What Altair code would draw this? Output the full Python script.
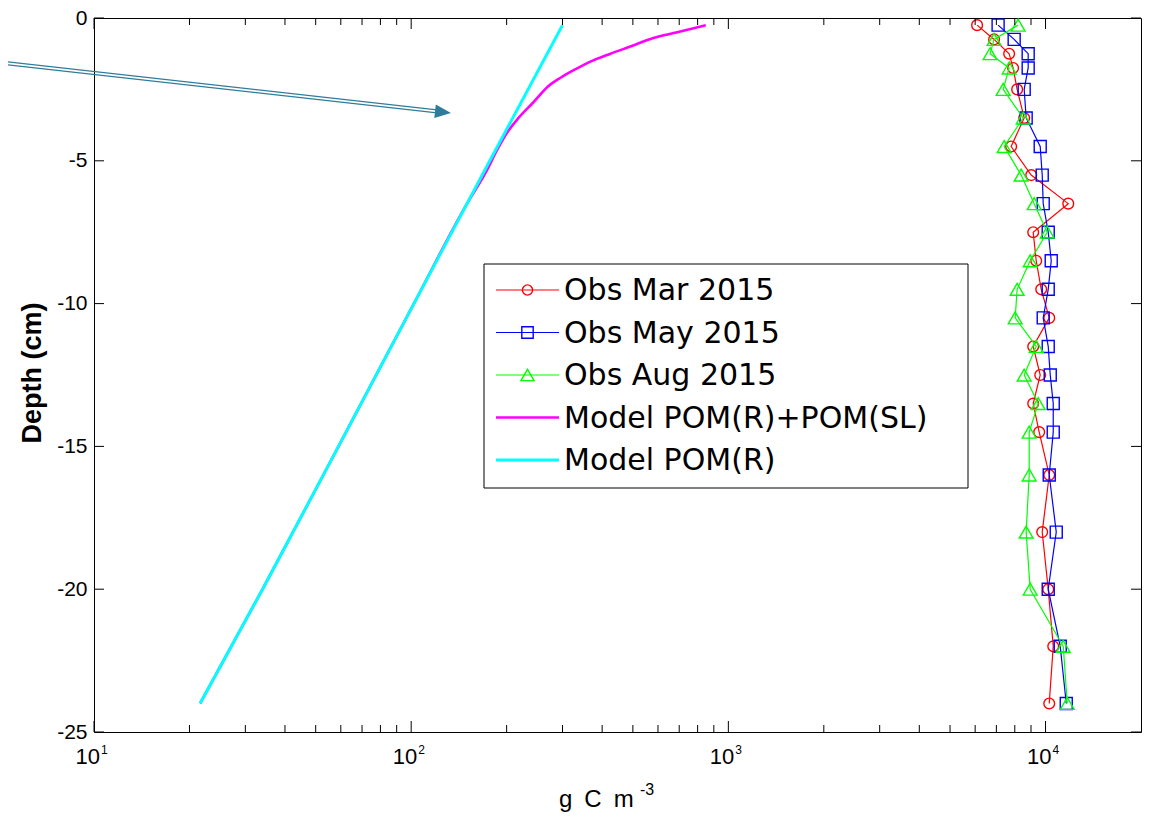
import altair as alt
import pandas as pd

# ---------------- data ----------------
obs_depth = [-0.25, -0.75, -1.25, -1.75, -2.5, -3.5, -4.5, -5.5, -6.5, -7.5, -8.5,
             -9.5, -10.5, -11.5, -12.5, -13.5, -14.5, -16, -18, -20, -22, -24]
obs_mar = [6085, 6884, 7679, 7903, 8138, 8565, 7792, 9013, 11795, 9144, 9346,
           9692, 10273, 9144, 9622, 9144, 9552, 10273, 9763, 10198, 10576, 10273]
obs_may = [7088, 7964, 8817, 8817, 8565, 8689, 9622, 9763, 9834, 10198, 10423,
           10198, 9834, 10198, 10349, 10576, 10576, 10273, 10810, 10198, 11127, 11625]
obs_aug = [8197, 6884, 6686, 7679, 7353, 8502, 7406, 8380, 9210, 10125, 8946,
           8138, 8023, 9346, 8565, 9484, 8881, 8881, 8689, 8946, 11373, 11710]

model_sl_depth = [-0.25, -0.5, -0.7, -1.0, -1.25, -1.5, -1.8, -2.1, -2.4, -2.95,
                  -3.5, -4.0, -4.6, -5.4, -6.5, -10, -15, -20, -24]
model_sl = [849, 690, 580, 491, 425, 372, 329, 295, 270, 243,
            218, 201, 187, 172, 150, 102, 59, 34, 21.6]

model_r_depth = [-0.25, -5, -10, -15, -20, -24]
model_r = [300, 177, 102, 59, 34, 21.6]

series_names = ["Obs Mar 2015", "Obs May 2015", "Obs Aug 2015",
                "Model POM(R)+POM(SL)", "Model POM(R)"]
series_colors = ["#ff0000", "#0000ff", "#00ff00", "#ff00ff", "#00ffff"]
obs_shapes = ["circle", "square", "triangle-up"]
obs_sizes = [115, 144, 190]

x_major = [10, 100, 1000, 10000]
x_major_base = ["10", "10", "10", "10"]
x_exponents = ["1", "2", "3", "4"]
x_minor = [20, 30, 40, 50, 60, 70, 80, 90,
           200, 300, 400, 500, 600, 700, 800, 900,
           2000, 3000, 4000, 5000, 6000, 7000, 8000, 9000]
y_ticks = [-25, -20, -15, -10, -5, 0]

x_title = "g\u2002C\u2002m"
x_title_exp = "-3"
y_title = "Depth (cm)"

# ---------------- layout ----------------
W, H = 1047, 714
FONT = "Liberation Sans"

xs = alt.Scale(type="log", domain=[10, 20000], nice=False)
ys = alt.Scale(domain=[-25, 0], nice=False, zero=False)
y_axis = alt.Axis(values=y_ticks, title=None, grid=False, domain=False, ticks=False,
                  tickSize=0, labelPadding=7, labelFontSize=21, labelFont=FONT,
                  labelColor="black", labelFlush=False, labelOverlap=False,
                  labelExpr="toString(datum.value)")

layers = []

# observation series: line + hollow markers
for vals, color, shape, sz in zip([obs_mar, obs_may, obs_aug], series_colors[:3],
                                  obs_shapes, obs_sizes):
    df = pd.DataFrame({"depth": obs_depth, "value": vals, "i": list(range(len(vals)))})
    base = alt.Chart(df).encode(
        x=alt.X("value:Q", scale=xs, axis=None),
        y=alt.Y("depth:Q", scale=ys, axis=y_axis),
        order=alt.Order("i:Q"),
    )
    layers.append(base.mark_line(color=color, strokeWidth=1.2))
    layers.append(base.mark_point(shape=shape, color=color, filled=False, size=sz,
                                  strokeWidth=1.4, opacity=1))

# model lines
for dep, vals, color, sw, interp in [(model_sl_depth, model_sl, series_colors[3], 2.6, "monotone"),
                                     (model_r_depth, model_r, series_colors[4], 3.0, "linear")]:
    df = pd.DataFrame({"depth": dep, "value": vals, "i": list(range(len(vals)))})
    layers.append(alt.Chart(df).mark_line(color=color, strokeWidth=sw,
                                          interpolate=interp).encode(
        x=alt.X("value:Q", scale=xs, axis=None),
        y=alt.Y("depth:Q", scale=ys, axis=y_axis),
        order=alt.Order("i:Q"),
    ))

# inward ticks (MATLAB box style)
yt = pd.DataFrame({"t": y_ticks})
layers.append(alt.Chart(yt).mark_rule(color="black", strokeWidth=1).encode(
    y=alt.Y("t:Q", scale=ys, axis=y_axis), x=alt.value(0), x2=alt.value(10)))
layers.append(alt.Chart(yt).mark_rule(color="black", strokeWidth=1).encode(
    y=alt.Y("t:Q", scale=ys, axis=y_axis), x=alt.value(W - 10), x2=alt.value(W)))

xmaj = pd.DataFrame({"t": x_major, "base": x_major_base, "exp": x_exponents})
xmin = pd.DataFrame({"t": x_minor})
for df, ln in [(xmaj, 11), (xmin, 7)]:
    layers.append(alt.Chart(df).mark_rule(color="black", strokeWidth=1).encode(
        x=alt.X("t:Q", scale=xs, axis=None), y=alt.value(H), y2=alt.value(H - ln)))
    layers.append(alt.Chart(df).mark_rule(color="black", strokeWidth=1).encode(
        x=alt.X("t:Q", scale=xs, axis=None), y=alt.value(0), y2=alt.value(ln)))

# x tick labels 10^n
layers.append(alt.Chart(xmaj).mark_text(align="right", baseline="alphabetic", dx=6,
                                        fontSize=22, font=FONT, color="black").encode(
    x=alt.X("t:Q", scale=xs, axis=None), y=alt.value(H + 32), text="base:N"))
layers.append(alt.Chart(xmaj).mark_text(align="left", baseline="alphabetic", dx=7,
                                        fontSize=12, font=FONT, color="black").encode(
    x=alt.X("t:Q", scale=xs, axis=None), y=alt.value(H + 22), text="exp:N"))

one = pd.DataFrame({"a": [0]})

# axis titles
layers.append(alt.Chart(one).mark_text(align="left", baseline="alphabetic", fontSize=24,
                                       font=FONT, color="black", text=x_title).encode(
    x=alt.value(465), y=alt.value(H + 75)))
layers.append(alt.Chart(one).mark_text(align="left", baseline="alphabetic", fontSize=16,
                                       font=FONT, color="black", text=x_title_exp).encode(
    x=alt.value(546), y=alt.value(H + 63)))
layers.append(alt.Chart(one).mark_text(align="center", baseline="middle", angle=270,
                                       fontSize=27, fontWeight="bold", font=FONT,
                                       color="black", text=y_title).encode(
    x=alt.value(-61), y=alt.value(355)))

# legend box and entries
LX0, LX1, LY0, LY1 = 390, 874, 246, 470
layers.append(alt.Chart(one).mark_rect(fill="white", stroke="black", strokeWidth=1).encode(
    x=alt.value(LX0), x2=alt.value(LX1), y=alt.value(LY0), y2=alt.value(LY1)))
for i, (name, color) in enumerate(zip(series_names, series_colors)):
    ly = 272 + 42.5 * i
    sw = 1.2 if i < 3 else (2.6 if i == 3 else 3.0)
    layers.append(alt.Chart(one).mark_rule(color=color, strokeWidth=sw).encode(
        x=alt.value(402), x2=alt.value(465), y=alt.value(ly)))
    if i < 3:
        layers.append(alt.Chart(one).mark_point(shape=obs_shapes[i], color=color,
                                                filled=False, size=obs_sizes[i] * 0.9,
                                                strokeWidth=1.4, opacity=1).encode(
            x=alt.value(433.5), y=alt.value(ly)))
    layers.append(alt.Chart(one).mark_text(align="left", baseline="middle", fontSize=30,
                                           font="DejaVu Sans", color="black",
                                           text=name).encode(
        x=alt.value(470), y=alt.value(ly + 1)))

# annotation arrow (double line with filled head)
ARROW = "#2e7c9c"
for (x0, y0, x1, y1) in [(-94, 43.0, 343, 91.9), (-94, 46.0, 343, 94.9)]:
    layers.append(alt.Chart(one).mark_rule(color=ARROW, strokeWidth=1.3).encode(
        x=alt.value(x0), y=alt.value(y0), x2=alt.value(x1), y2=alt.value(y1)))
layers.append(alt.Chart(one).mark_point(shape="M-1,-0.85L1,0L-1,0.85Z", filled=True,
                                        color=ARROW, size=256, angle=6.4, opacity=1).encode(
    x=alt.value(349), y=alt.value(94.1)))

chart = alt.layer(*layers).properties(
    width=W, height=H,
    autosize=alt.AutoSizeParams(type="none"),
    padding={"left": 86, "top": 10, "right": 10, "bottom": 84},
    background="white",
).configure_view(stroke="black", strokeWidth=1)

chart.save("out.html", embed_options={"renderer": "svg", "actions": False})
